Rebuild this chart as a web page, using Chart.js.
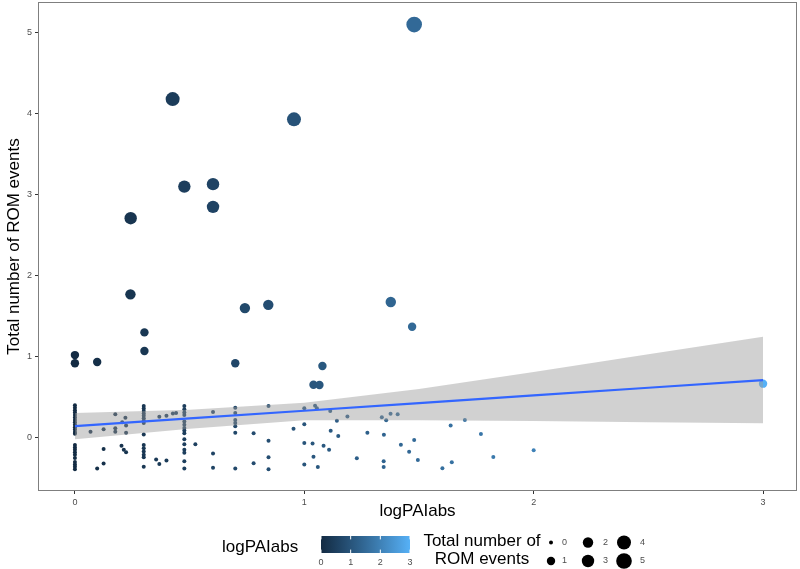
<!DOCTYPE html>
<html>
<head>
<meta charset="utf-8">
<title>ROM events vs logPAIabs</title>
<script src="https://cdn.jsdelivr.net/npm/chart.js@4/dist/chart.umd.min.js"></script>
<style>
  html, body { margin: 0; padding: 0; background: #fff; }
  #wrap { width: 800px; height: 569px; }
</style>
</head>
<body>
<div id="wrap"><canvas id="rom-chart" width="800" height="569"></canvas></div>
<script>
/* ---------- data ---------- */

// studies with at least one ROM event
const eventX     = [1.479, 0.426, 0.955, 0.477, 0.602, 0.602, 0.243, 0.242, 0.741, 0.843, 1.377, 1.470, 0.303, 0.303, 0, 0, 0.097, 0.699, 1.079, 1.040, 1.066, 3.000];
const eventY     = [5.10, 4.18, 3.93, 3.10, 3.13, 2.85, 2.71, 1.77, 1.60, 1.64, 1.675, 1.37, 1.30, 1.07, 1.02, 0.92, 0.935, 0.92, 0.885, 0.654, 0.65, 0.667];
const eventCount = [5, 4, 4, 3, 3, 3, 3, 2, 2, 2, 2, 1, 1, 1, 1, 1, 1, 1, 1, 1, 1, 1];

// studies with zero events (jittered around 0)
const zeroX = [
  0, 0, 0, 0, 0, 0, 0, 0, 0, 0, 0, 0, 0, 0, 0, 0, 0, 0, 0, 0, 0, 0, 0,
  0.068, 0.125, 0.176, 0.176, 0.176, 0.220, 0.206, 0.223, 0.223, 0.125, 0.203, 0.213, 0.223, 0.125, 0.097,
  0.30, 0.30, 0.30, 0.30, 0.30, 0.30, 0.30, 0.30, 0.30, 0.30, 0.30, 0.30, 0.30, 0.30, 0.30,
  0.368, 0.399, 0.427, 0.441, 0.354, 0.368, 0.399,
  0.477, 0.477, 0.477, 0.477, 0.477, 0.477, 0.477, 0.477, 0.477, 0.477, 0.477, 0.477, 0.477, 0.477, 0.477,
  0.525, 0.602, 0.602, 0.602,
  0.699, 0.699, 0.699, 0.699, 0.699, 0.699, 0.699,
  0.779, 0.779, 0.844, 0.844, 0.844, 0.844, 0.953,
  1.0, 1.0, 1.0, 1.0,
  1.036, 1.040, 1.047, 1.055, 1.113, 1.142, 1.188, 1.338, 1.357, 1.376, 1.407, 1.115, 1.148, 1.275, 1.347, 1.084,
  1.108, 1.059, 1.229, 1.346, 1.346, 1.421, 1.457, 1.479, 1.495, 1.638, 1.700, 1.770, 1.643, 1.602, 1.824, 2.000
];
const zeroY = [
  0.40, 0.37, 0.34, 0.31, 0.28, 0.25, 0.22, 0.19, 0.16, 0.13, 0.10, 0.07, 0.05, -0.09, -0.12, -0.15, -0.18, -0.21, -0.25, -0.30, -0.33, -0.36, -0.39,
  0.074, 0.104, 0.289, 0.116, 0.074, 0.247, 0.190, 0.150, 0.062, -0.140, -0.100, -0.150, -0.180, -0.320, -0.380,
  0.39, 0.36, 0.33, 0.30, 0.27, 0.24, 0.21, 0.18, 0.04, -0.09, -0.13, -0.17, -0.21, -0.24, -0.36,
  0.26, 0.27, 0.30, 0.305, -0.27, -0.325, -0.28,
  0.39, 0.35, 0.31, 0.28, 0.20, 0.16, 0.12, 0.09, 0.055, -0.02, -0.08, -0.15, -0.185, -0.29, -0.38,
  -0.08, 0.317, -0.195, -0.37,
  0.37, 0.305, 0.22, 0.18, 0.14, 0.06, -0.38,
  0.054, -0.316, 0.39, -0.037, -0.242, -0.39, 0.111,
  0.363, 0.165, -0.064, -0.33,
  -0.072, -0.235, 0.395, 0.363, 0.331, 0.210, 0.262, 0.252, 0.215, 0.295, 0.289, 0.085, 0.020, 0.062, 0.036, -0.099,
  -0.150, -0.362, -0.254, -0.291, -0.362, -0.088, -0.173, -0.028, -0.275, 0.150, 0.218, 0.046, -0.304, -0.378, -0.238, -0.156
];

// linear fit and its confidence band
const fitX     = [0, 0.5, 1, 1.5, 2, 2.5, 3];
const fitY     = [0.144, 0.239, 0.333, 0.428, 0.522, 0.617, 0.712];
const fitUpper = [0.305, 0.345, 0.43, 0.60, 0.81, 1.03, 1.247];
const fitLower = [-0.02, 0.11, 0.215, 0.215, 0.205, 0.19, 0.178];

const xTicks       = [0, 1, 2, 3];
const yTicks       = [0, 1, 2, 3, 4, 5];
const colourBreaks = [0, 1, 2, 3];
const sizeBreaks   = [0, 1, 2, 3, 4, 5];

/* ---------- styles ---------- */
const FONT      = '"Liberation Sans", Arial, sans-serif';
const LOW_HEX   = '#132B43';
const HIGH_HEX  = '#56B1F7';
const RADIUS_BY_COUNT = [2, 4.2, 5.2, 6.2, 7, 7.8];

// ggplot-style gradient: interpolate in CIELAB
function hexToLab(hex) {
  const rgb = [1, 3, 5].map(i => parseInt(hex.slice(i, i + 2), 16) / 255)
    .map(c => c <= 0.04045 ? c / 12.92 : Math.pow((c + 0.055) / 1.055, 2.4));
  const X = (0.4124 * rgb[0] + 0.3576 * rgb[1] + 0.1805 * rgb[2]) / 0.95047;
  const Y =  0.2126 * rgb[0] + 0.7152 * rgb[1] + 0.0722 * rgb[2];
  const Z = (0.0193 * rgb[0] + 0.1192 * rgb[1] + 0.9505 * rgb[2]) / 1.08883;
  const f = t => t > 0.008856 ? Math.cbrt(t) : 7.787 * t + 16 / 116;
  return [116 * f(Y) - 16, 500 * (f(X) - f(Y)), 200 * (f(Y) - f(Z))];
}

function labToRgb(L, a, b) {
  const fy = (L + 16) / 116, fx = fy + a / 500, fz = fy - b / 200;
  const inv = t => t > 0.206893 ? t * t * t : (t - 16 / 116) / 7.787;
  const X = inv(fx) * 0.95047, Y = inv(fy), Z = inv(fz) * 1.08883;
  const lin = [
     3.2406 * X - 1.5372 * Y - 0.4986 * Z,
    -0.9689 * X + 1.8758 * Y + 0.0415 * Z,
     0.0557 * X - 0.2040 * Y + 1.0570 * Z,
  ];
  return lin.map(c => {
    const s = c <= 0.0031308 ? 12.92 * c : 1.055 * Math.pow(c, 1 / 2.4) - 0.055;
    return Math.round(Math.max(0, Math.min(1, s)) * 255);
  });
}

const LOW_LAB = hexToLab(LOW_HEX), HIGH_LAB = hexToLab(HIGH_HEX);

function colourAt(v) {
  const t = Math.max(0, Math.min(1, v / 3));
  const lab = LOW_LAB.map((lo, i) => lo + (HIGH_LAB[i] - lo) * t);
  const c = labToRgb(lab[0], lab[1], lab[2]);
  return `rgb(${c[0]},${c[1]},${c[2]})`;
}

const points = [];
zeroX.forEach((x, i) => points.push({ x, y: zeroY[i], n: 0 }));
eventX.forEach((x, i) => points.push({ x, y: eventY[i], n: eventCount[i] }));

const toXY = (xs, ys) => xs.map((x, i) => ({ x, y: ys[i] }));

/* ---------- panel border + legends ---------- */
const ggExtras = {
  id: 'ggExtras',
  afterDraw(chart) {
    const ctx = chart.ctx;
    const a = chart.chartArea;
    ctx.save();

    ctx.strokeStyle = '#7f7f7f';
    ctx.lineWidth = 1;
    ctx.strokeRect(a.left + 0.5, a.top + 0.5, a.right - a.left - 1, a.bottom - a.top - 1);

    // colour bar legend
    ctx.fillStyle = '#000';
    ctx.font = `17px ${FONT}`;
    ctx.textBaseline = 'middle';
    ctx.textAlign = 'left';
    ctx.fillText('logPAIabs', 222, 547);

    const barL = 321, barW = 89, barT = 536, barH = 17;
    const grad = ctx.createLinearGradient(barL, 0, barL + barW, 0);
    for (let k = 0; k <= 10; k++) grad.addColorStop(k / 10, colourAt(3 * k / 10));
    ctx.fillStyle = grad;
    ctx.fillRect(barL, barT, barW, barH);

    ctx.strokeStyle = '#fff';
    ctx.font = `9px ${FONT}`;
    ctx.textAlign = 'center';
    colourBreaks.forEach(b => {
      const bx = barL + (b / 3) * barW;
      ctx.beginPath();
      ctx.moveTo(bx, barT); ctx.lineTo(bx, barT + 3.4);
      ctx.moveTo(bx, barT + barH - 3.4); ctx.lineTo(bx, barT + barH);
      ctx.stroke();
      ctx.fillStyle = '#4d4d4d';
      ctx.fillText(String(b), bx, 563);
    });

    // size legend
    ctx.fillStyle = '#000';
    ctx.font = `17px ${FONT}`;
    ctx.fillText('Total number of', 482, 541.5);
    ctx.fillText('ROM events', 482, 559.5);

    const colX   = [551, 588, 624];
    const labelX = [562, 603, 640];
    const rowY   = [542.5, 561];
    ctx.font = `9px ${FONT}`;
    ctx.textAlign = 'left';
    sizeBreaks.forEach((b, i) => {
      const col = Math.floor(i / 2), row = i % 2;
      ctx.fillStyle = '#000';
      ctx.beginPath();
      ctx.arc(colX[col], rowY[row], RADIUS_BY_COUNT[b], 0, Math.PI * 2);
      ctx.fill();
      ctx.fillStyle = '#4d4d4d';
      ctx.fillText(String(b), labelX[col], rowY[row]);
    });

    ctx.restore();
  }
};

/* ---------- chart ---------- */
const ctx = document.getElementById('rom-chart').getContext('2d');

new Chart(ctx, {
  type: 'scatter',
  data: {
    datasets: [
      {
        type: 'line',
        label: 'fit',
        data: toXY(fitX, fitY),
        borderColor: '#3366FF',
        borderWidth: 2.2,
        pointRadius: 0,
        fill: false,
        order: 0,
      },
      {
        type: 'line',
        label: 'upper',
        data: toXY(fitX, fitUpper),
        borderWidth: 0,
        pointRadius: 0,
        backgroundColor: 'rgba(153,153,153,0.45)',
        fill: '+1',
        order: 1,
      },
      {
        type: 'line',
        label: 'lower',
        data: toXY(fitX, fitLower),
        borderWidth: 0,
        pointRadius: 0,
        fill: false,
        order: 2,
      },
      {
        label: 'studies',
        data: points.map(p => ({ x: p.x, y: p.y })),
        pointRadius: points.map(p => RADIUS_BY_COUNT[p.n]),
        pointBackgroundColor: points.map(p => colourAt(p.x)),
        pointBorderWidth: 0,
        order: 3,
      },
    ],
  },
  options: {
    responsive: false,
    animation: false,
    events: [],
    layout: { autoPadding: false, padding: { left: 0, right: 3, top: 2, bottom: 0 } },
    plugins: {
      legend: { display: false },
      tooltip: { enabled: false },
    },
    scales: {
      x: {
        type: 'linear',
        min: -0.161,
        max: 3.148,
        afterBuildTicks: s => { s.ticks = xTicks.map(v => ({ value: v })); },
        afterFit: s => { s.height = 78; s.paddingLeft = 0; s.paddingRight = 0; },
        grid: { drawOnChartArea: false, drawTicks: true, tickLength: 3, tickColor: '#333' },
        border: { display: false },
        ticks: { color: '#4d4d4d', font: { family: FONT, size: 9 }, padding: 3, maxRotation: 0 },
        title: {
          display: true,
          text: 'logPAIabs',
          color: '#000',
          font: { family: FONT, size: 17 },
          padding: { top: 0, bottom: 47 },
        },
      },
      y: {
        type: 'linear',
        min: -0.658,
        max: 5.379,
        afterBuildTicks: s => { s.ticks = yTicks.map(v => ({ value: v })); },
        afterFit: s => { s.width = 38; s.paddingTop = 0; s.paddingBottom = 0; },
        grid: { drawOnChartArea: false, drawTicks: true, tickLength: 3, tickColor: '#333' },
        border: { display: false },
        ticks: { color: '#4d4d4d', font: { family: FONT, size: 9 }, padding: 3 },
        title: {
          display: true,
          text: 'Total number of ROM events',
          color: '#000',
          font: { family: FONT, size: 17 },
          padding: { top: 4, bottom: 0 },
        },
      },
    },
  },
  plugins: [ggExtras],
});
</script>
</body>
</html>
